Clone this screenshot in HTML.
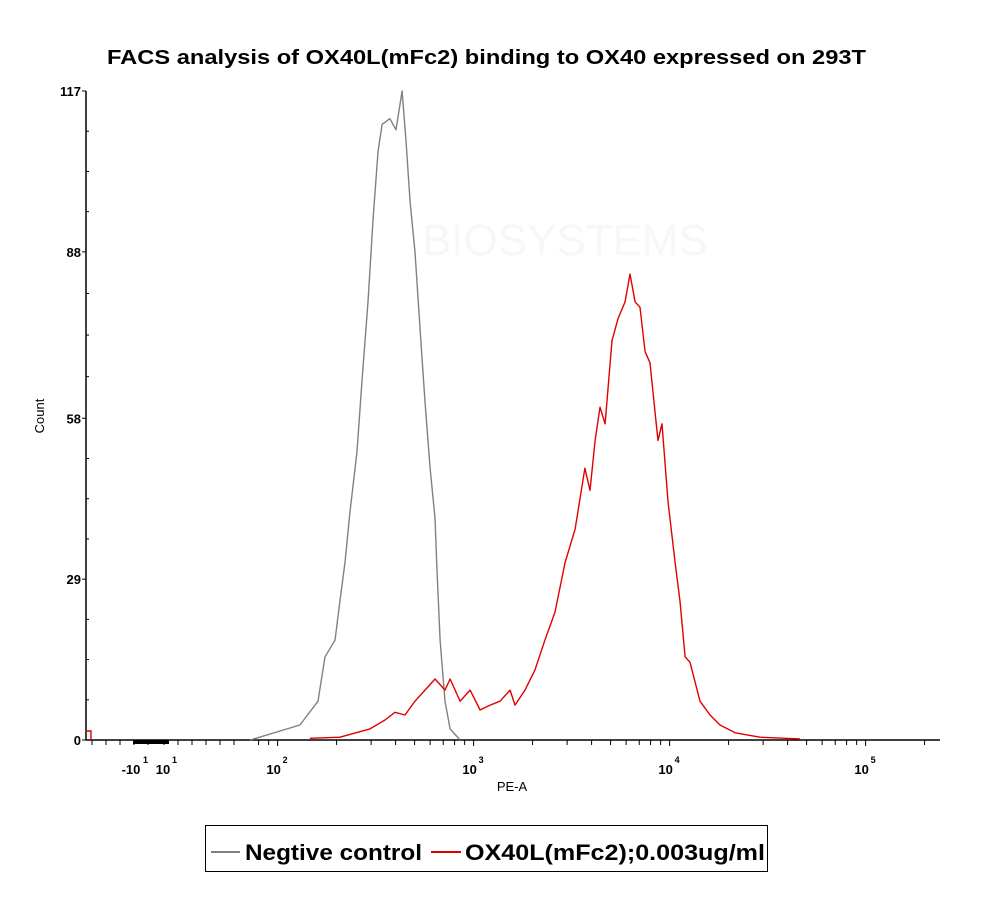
<!DOCTYPE html>
<html><head><meta charset="utf-8"><style>
body{margin:0;background:#fff;}
svg text{font-family:"Liberation Sans",sans-serif;}
</style></head><body>
<svg id="chart" width="1000" height="909" viewBox="0 0 1000 909" xmlns="http://www.w3.org/2000/svg">
<text x="107" y="64" font-size="20" font-weight="bold" textLength="759" lengthAdjust="spacingAndGlyphs">FACS analysis of OX40L(mFc2) binding to OX40 expressed on 293T</text>
<text x="565" y="255" text-anchor="middle" font-size="44" fill="#f7f7f7">BIOSYSTEMS</text>
<g id="axes"></g>
<g id="series"></g>
<text transform="translate(44,416) rotate(-90)" text-anchor="middle" font-size="13">Count</text>
<text x="512" y="791" text-anchor="middle" font-size="13">PE-A</text>
<g>
<rect x="205.5" y="825.5" width="562" height="46" fill="#fff" stroke="#000" stroke-width="1"/>
<line x1="211" y1="852" x2="240" y2="852" stroke="#808080" stroke-width="2"/>
<text x="245" y="860" font-size="22" font-weight="bold" textLength="177" lengthAdjust="spacingAndGlyphs">Negtive control</text>
<line x1="431" y1="852" x2="461" y2="852" stroke="#e00000" stroke-width="2"/>
<text x="465" y="860" font-size="22" font-weight="bold" textLength="300" lengthAdjust="spacingAndGlyphs">OX40L(mFc2);0.003ug/ml</text>
</g>
</svg>
<script>
const yTicks=[0,29,58,88,117];
const xDecades=[2,3,4,5];
const grayLog=[1.86,2.114,2.206,2.242,2.293,2.318,2.344,2.369,2.405,2.431,2.461,2.487,2.512,2.533,2.573,2.604,2.635,2.655,2.676,2.701,2.727,2.752,2.778,2.803,2.813,2.829,2.854,2.880,2.931];
const grayCount=[0,2.7,7,15,18,25,32,41,52,65,79,94,106,111,112,110,117,108,97,88,74,61,49,40,31,18,7,2,0];
const redLog=[2.165,2.318,2.471,2.548,2.599,2.650,2.701,2.752,2.803,2.854,2.880,2.931,2.982,3.033,3.084,3.135,3.186,3.211,3.262,3.313,3.364,3.415,3.467,3.518,3.568,3.594,3.620,3.645,3.671,3.706,3.737,3.773,3.798,3.824,3.849,3.875,3.900,3.926,3.941,3.961,3.992,4.028,4.053,4.079,4.104,4.155,4.206,4.257,4.334,4.461,4.665];
const redCount=[0.3,0.5,2,3.6,5,4.5,7,9,11,9,11,7,9,5.4,6.3,7,9,6.3,9,12.6,18,23,32,38,49,45,54,60,57,72,76,79,84,79,78,70,68,59,54,57,43,32,25,15,14,7,4.5,2.7,1.3,0.5,0.2];

const NS='http://www.w3.org/2000/svg';
const X0=86,X1=940,Y0=740,Y1=91,YMAX=117;
function xs(l){return 277.6+196*(l-2);}
function ys(c){return Y0-(Y0-Y1)*c/YMAX;}
function mk(tag,attrs,parent){const e=document.createElementNS(NS,tag);for(const k in attrs)e.setAttribute(k,attrs[k]);parent.appendChild(e);return e;}
const axes=document.getElementById('axes');
let e=mk('line',{x1:X0,y1:Y1,x2:X0,y2:Y0,stroke:'#000','stroke-width':1.5},axes);


e=mk('line',{x1:X0,y1:Y0,x2:X1,y2:Y0,stroke:'#000','stroke-width':1.5},axes);


yTicks.forEach(t=>{
  const y=ys(t);
  let l=mk('line',{x1:X0-4,y1:y,x2:X0,y2:y,stroke:'#000'},axes);
  
  
  let tx=mk('text',{x:X0-5,y:y+5,'text-anchor':'end','font-size':13,'font-weight':'bold'},axes);
  tx.textContent=t;
  
  
});
for(let i=0;i<yTicks.length-1;i++){
  for(let k=1;k<4;k++){
    const y=ys(yTicks[i]+(yTicks[i+1]-yTicks[i])*k/4);
    let l=mk('line',{x1:X0,y1:y,x2:X0+3,y2:y,stroke:'#000'},axes);
    
    
  }
}
for(const d of [1,2,3,4,5]){
  for(let m=1;m<10;m++){
    const l=d+Math.log10(m);
    if(d===1&&m<8)continue;
    const x=xs(l); if(x>X1)continue;
    let t=mk('line',{x1:x,y1:Y0,x2:x,y2:Y0+(m===1?6:5),stroke:'#000'},axes);
    
    
  }
}
[92,106,120,134,148,164,178,192,206,220,234].forEach(x=>{
  let t=mk('line',{x1:x,y1:Y0,x2:x,y2:Y0+5,stroke:'#000'},axes);
  
  
});
let band=mk('rect',{x:133,y:Y0,width:36,height:4,fill:'#000'},axes);


function decLabel(x,pre,exp){
  const g=mk('text',{x:x,y:774,'text-anchor':'middle','font-size':13,'font-weight':'bold'},axes);
  
  
  g.textContent=pre+'10';
  const s=mk('text',{x:x+(pre?12:9),y:763,'font-size':9,'font-weight':'bold'},axes);
  
  
  s.textContent=exp;
}
decLabel(131,'-',1);
decLabel(163,'',1);
xDecades.forEach(d=>decLabel(xs(d)-4,'',d));
const series=document.getElementById('series');
function draw(lx,cy,color,name){
  let d='';
  lx.forEach((l,i)=>{d+=(i?'L':'M')+xs(l).toFixed(1)+','+ys(cy[i]).toFixed(1);});
  const p=mk('path',{d:d,fill:'none',stroke:color,'stroke-width':1.4,'stroke-linejoin':'round'},series);
  
  
}
draw(grayLog,grayCount,'#808080','negative-control-histogram');
draw(redLog,redCount,'#e00000','ox40l-histogram');
let r=mk('path',{d:'M86,731 L91,731 L91,740',fill:'none',stroke:'#e00000','stroke-width':1.4},series);


</script>
</body></html>
